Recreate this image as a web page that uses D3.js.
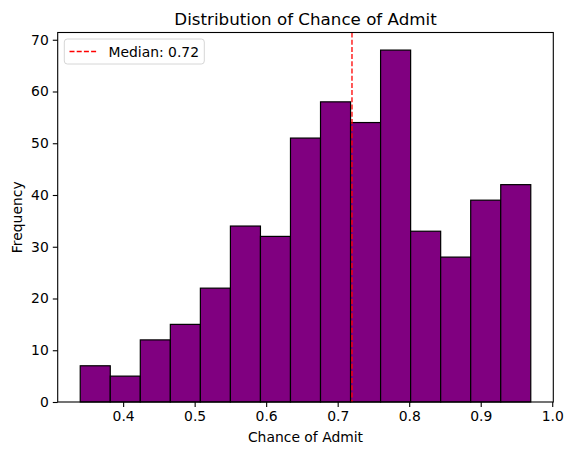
<!DOCTYPE html>
<html>
<head>
<meta charset="utf-8">
<script src="https://cdn.jsdelivr.net/npm/d3@7"></script>
<style>
html,body{margin:0;padding:0;background:#fff;}
svg{display:block;font-family:"DejaVu Sans",sans-serif;}
</style>
</head>
<body>
<div id="chart"></div>
<script>
const binEdges = [0.34, 0.382, 0.424, 0.466, 0.508, 0.55, 0.592, 0.634, 0.676, 0.718, 0.76, 0.802, 0.844, 0.886, 0.928, 0.97];
const counts = [7, 5, 12, 15, 22, 34, 32, 51, 58, 54, 68, 33, 28, 39, 42];
const median = 0.72;
const xTicks = [0.4, 0.5, 0.6, 0.7, 0.8, 0.9, 1.0];
const yTicks = [0, 10, 20, 30, 40, 50, 60, 70];
const title = "Distribution of Chance of Admit";
const xLabel = "Chance of Admit";
const yLabel = "Frequency";
const legendLabel = "Median: 0.72";

const W = 572, H = 455;
const mLeft = 57.7, mRight = 553.3, mTop = 32.5, mBottom = 402;

const bins = counts.map((c, i) => ({x0: binEdges[i], x1: binEdges[i + 1], count: c}));

const xMin = d3.min(binEdges), xMax = d3.max(binEdges);
const xPad = (xMax - xMin) * 0.05;
const x = d3.scaleLinear().domain([xMin - xPad, xMax + xPad]).range([mLeft, mRight]);
const yMax = d3.max(counts) * 1.05;
const y = d3.scaleLinear().domain([0, yMax]).range([mBottom, mTop]);

const svg = d3.select("#chart").append("svg").attr("width", W).attr("height", H);

svg.append("g").selectAll("rect").data(bins).join("rect")
  .attr("x", d => x(d.x0))
  .attr("y", d => y(d.count))
  .attr("width", d => x(d.x1) - x(d.x0))
  .attr("height", d => y(0) - y(d.count))
  .attr("fill", "#800080")
  .attr("stroke", "#000")
  .attr("stroke-width", 1.2);

svg.append("line")
  .attr("x1", x(median)).attr("x2", x(median))
  .attr("y1", mTop).attr("y2", mBottom)
  .attr("stroke", "#ff0000").attr("stroke-width", 1.3)
  .attr("stroke-dasharray", "5,2.2");

// frame
svg.append("rect").attr("x", mLeft).attr("y", mTop)
  .attr("width", mRight - mLeft).attr("height", mBottom - mTop)
  .attr("fill", "none").attr("stroke", "#000").attr("stroke-width", 1.1);

const xAxis = svg.append("g").attr("transform", `translate(0,${mBottom})`)
  .call(d3.axisBottom(x).tickValues(xTicks).tickFormat(d3.format(".1f")).tickSize(4.9).tickPadding(4));
const yAxis = svg.append("g").attr("transform", `translate(${mLeft},0)`)
  .call(d3.axisLeft(y).tickValues(yTicks).tickFormat(d3.format("d")).tickSize(4.9).tickPadding(4));
[xAxis, yAxis].forEach(g => {
  g.select(".domain").remove();
  g.selectAll(".tick line").attr("stroke", "#000").attr("stroke-width", 1.1);
  g.selectAll(".tick text").attr("fill", "#000").style("font-size", "13.9px").style("font-family", "DejaVu Sans");
});

svg.append("text").attr("x", (mLeft + mRight) / 2).attr("y", 24.5)
  .attr("text-anchor", "middle").style("font-size", "16.7px").attr("fill", "#000").text(title);
svg.append("text").attr("x", (mLeft + mRight) / 2).attr("y", 442)
  .attr("text-anchor", "middle").style("font-size", "13.9px").attr("fill", "#000").text(xLabel);
svg.append("text").attr("transform", `translate(22,${(mTop + mBottom) / 2}) rotate(-90)`)
  .attr("text-anchor", "middle").style("font-size", "13.9px").attr("fill", "#000").text(yLabel);

// legend
const lg = svg.append("g");
lg.append("rect").attr("x", 64.3).attr("y", 39).attr("width", 140).attr("height", 25)
  .attr("rx", 3).attr("fill", "#fff").attr("fill-opacity", 0.8)
  .attr("stroke", "#d6d6d6").attr("stroke-width", 1);
lg.append("line").attr("x1", 69.5).attr("x2", 97.3).attr("y1", 51.5).attr("y2", 51.5)
  .attr("stroke", "#ff0000").attr("stroke-width", 1.3).attr("stroke-dasharray", "5,2.2");
lg.append("text").attr("x", 108.5).attr("y", 56.5).style("font-size", "13.9px").attr("fill", "#000").text(legendLabel);
</script>
</body>
</html>
